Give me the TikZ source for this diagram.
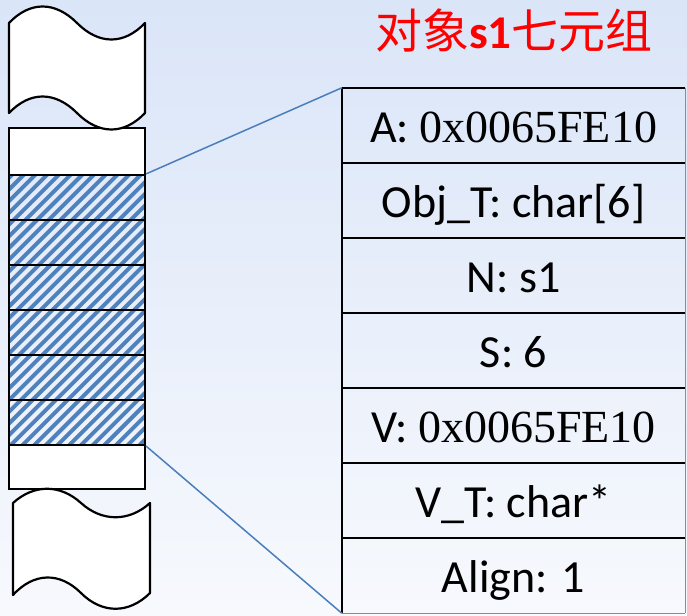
\documentclass[tikz,border=0pt]{standalone}
\usepackage{fontspec}
\setmainfont{Liberation Serif}
\newfontfamily\calf{Carlito}
\newfontfamily\timesf{Liberation Serif}
\newfontfamily\cjkf{Noto Sans CJK SC}
\definecolor{bgtop}{HTML}{DAE5F8}
\definecolor{bgbot}{HTML}{F7F9FD}
\definecolor{hatchc}{HTML}{4F81BD}
\definecolor{linkc}{HTML}{4A7EBB}
\definecolor{edgegray}{HTML}{8C8C8C}
\tikzset{
  memcell/.style={draw=black, line width=2.2pt, minimum width=136pt, inner sep=0pt},
  whitecell/.style={memcell, fill=white},
  hatchcell/.style={memcell},
  wave/.style={draw=black, line width=2.2pt, fill=white, line join=round},
  rowbox/.style={minimum width=343pt, minimum height=75pt, inner sep=0pt,
     text height=33pt, text depth=0pt, font=\calf\fontsize{46}{50}\selectfont},
  tblline/.style={draw=black, line width=2pt},
  grayline/.style={draw=edgegray, line width=1pt},
  link/.style={draw=linkc, line width=1.5pt},
  titlestyle/.style={text=red, inner sep=0pt, font=\fontsize{47}{50}\selectfont}
}
\begin{document}
\begin{tikzpicture}[x=1pt,y=-1pt]
\useasboundingbox (0,0) rectangle (687,615);
\shade[top color=bgtop, bottom color=bgbot] (0,0) rectangle (687,615);

% hatching
\begin{scope}
\clip (9,175) rectangle (145,445);
\foreach \k in {-320,-308.3,...,160} {
  \draw[hatchc, line width=3.9pt] (\k,460) -- (\k+300,160);
}
\end{scope}

% memory cells
\node[whitecell, minimum height=47pt] (w0) at (77,151.5) {};
\node[hatchcell, minimum height=45pt] (h1) at (77,197.5) {};
\node[hatchcell, minimum height=45pt] (h2) at (77,242.5) {};
\node[hatchcell, minimum height=45pt] (h3) at (77,287.5) {};
\node[hatchcell, minimum height=45pt] (h4) at (77,332.5) {};
\node[hatchcell, minimum height=45pt] (h5) at (77,377.5) {};
\node[hatchcell, minimum height=45pt] (h6) at (77,422.5) {};
\node[whitecell, minimum height=44pt] (w7) at (77,467) {};

% wavy pieces
\draw[wave] (9,23) .. controls (30,1) and (55,1) .. (77,23)
   .. controls (99,45) and (124,45) .. (145,23)
   -- (145,113) .. controls (124,135) and (99,135) .. (77,113)
   .. controls (55,91) and (30,91) .. (9,113) -- cycle;
\draw[wave] (13,503) .. controls (34,484) and (60,484) .. (81,503)
   .. controls (102,522) and (129,522) .. (150,503)
   -- (150,593) .. controls (129,614) and (102,614) .. (81,593)
   .. controls (60,572) and (34,572) .. (13,595) -- cycle;

% table rows
\node[rowbox] (r1) at (513.5,125.5) {A: {\timesf 0x0065FE10}};
\node[rowbox] (r2) at (513.5,200.5) {Obj\_T: char[6]};
\node[rowbox] (r3) at (513.5,275.5) {N: s1};
\node[rowbox] (r4) at (513.5,350.5) {S: 6};
\node[rowbox] (r5) at (513.5,425.5) {V: {\timesf 0x0065FE10}};
\node[rowbox] (r6) at (513.5,500.5) {V\_T: char*};
\node[rowbox] (r7) at (513.5,575.5) {Align: 1};

\draw[grayline] (r1.north east) -- (r7.south east);
\draw[grayline] (r7.south west) -- (r7.south east);
\foreach \r in {r1,r2,r3,r4,r5,r6,r7} {
  \draw[tblline] (\r.north west) -- (\r.north east);
}
\draw[tblline] (r1.north west) -- (r7.south west);

% connectors
\draw[link] (h1.north east) -- (r1.north west);
\draw[link] (h6.south east) -- (r7.south west);

% title
\node[titlestyle, anchor=base] (title) at (514,49)
  {\cjkf 对象{\calf\bfseries s1}七元组};
\end{tikzpicture}
\end{document}
